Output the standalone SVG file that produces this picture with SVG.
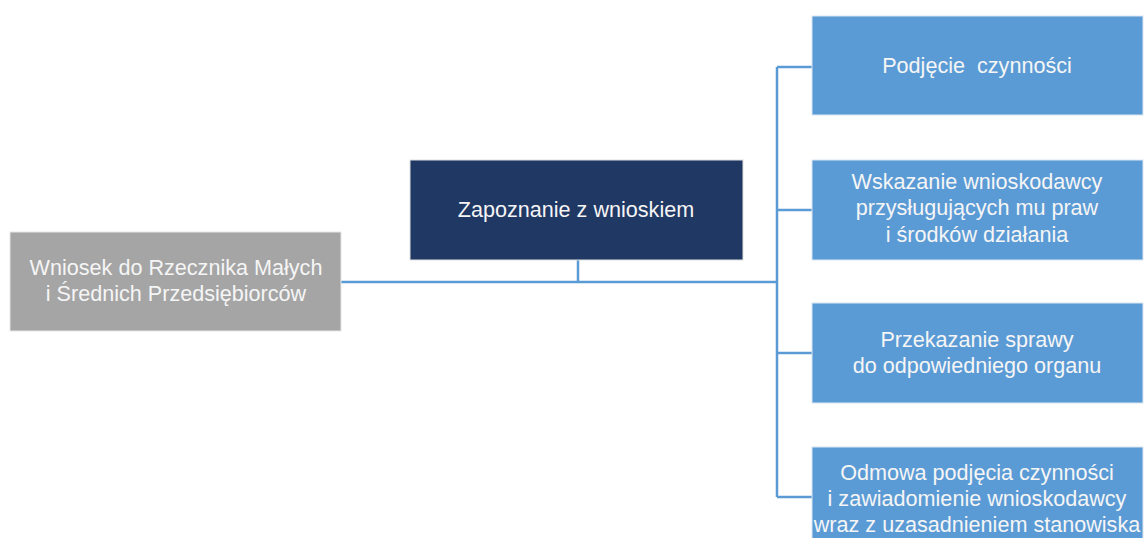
<svg xmlns="http://www.w3.org/2000/svg" width="1145" height="538" viewBox="0 0 1145 538">
<style>
.t{font-family:"Liberation Sans",Arial,sans-serif;font-size:21.6px;fill:#F5F5F5;text-anchor:middle}
.c{fill:none;stroke:#5B9BD5;stroke-width:2.5}
.blue{fill:#5B9BD5;stroke:#D9E6F2;stroke-width:1}
</style>
<rect width="1145" height="538" fill="#FFFFFF"/>
<g id="connectors">
<path class="c" d="M341 282 H777"/>
<path class="c" d="M578 260 V282"/>
<path class="c" d="M777 67 V497"/>
<path class="c" d="M777 67 H812 M777 210 H812 M777 353 H812 M777 497 H812"/>
</g>
<g id="node-wniosek">
<rect x="10" y="232" width="331" height="99" fill="#A5A5A5" stroke="#E5E5E5" stroke-width="1"/>
<text class="t" x="176" y="275">Wniosek do Rzecznika Małych</text>
<text class="t" x="176" y="301">i Średnich Przedsiębiorców</text>
</g>
<g id="node-zapoznanie">
<rect x="410" y="160" width="333" height="100" fill="#203864" stroke="#E0E0E0" stroke-width="1"/>
<text class="t" x="576" y="217">Zapoznanie z wnioskiem</text>
</g>
<g id="node-podjecie">
<rect class="blue" x="812" y="16" width="331" height="99"/>
<text class="t" x="977" y="73" xml:space="preserve">Podjęcie  czynności</text>
</g>
<g id="node-wskazanie">
<rect class="blue" x="812" y="160" width="331" height="100"/>
<text class="t" x="977" y="189">Wskazanie wnioskodawcy</text>
<text class="t" x="977" y="215">przysługujących mu praw</text>
<text class="t" x="977" y="242">i środków działania</text>
</g>
<g id="node-przekazanie">
<rect class="blue" x="812" y="303" width="331" height="100"/>
<text class="t" x="977" y="347">Przekazanie sprawy</text>
<text class="t" x="977" y="373">do odpowiedniego organu</text>
</g>
<g id="node-odmowa">
<rect class="blue" x="812" y="447" width="331" height="100"/>
<text class="t" x="977" y="480">Odmowa podjęcia czynności</text>
<text class="t" x="977" y="506">i zawiadomienie wnioskodawcy</text>
<text class="t" x="977" y="532">wraz z uzasadnieniem stanowiska</text>
</g>
</svg>
